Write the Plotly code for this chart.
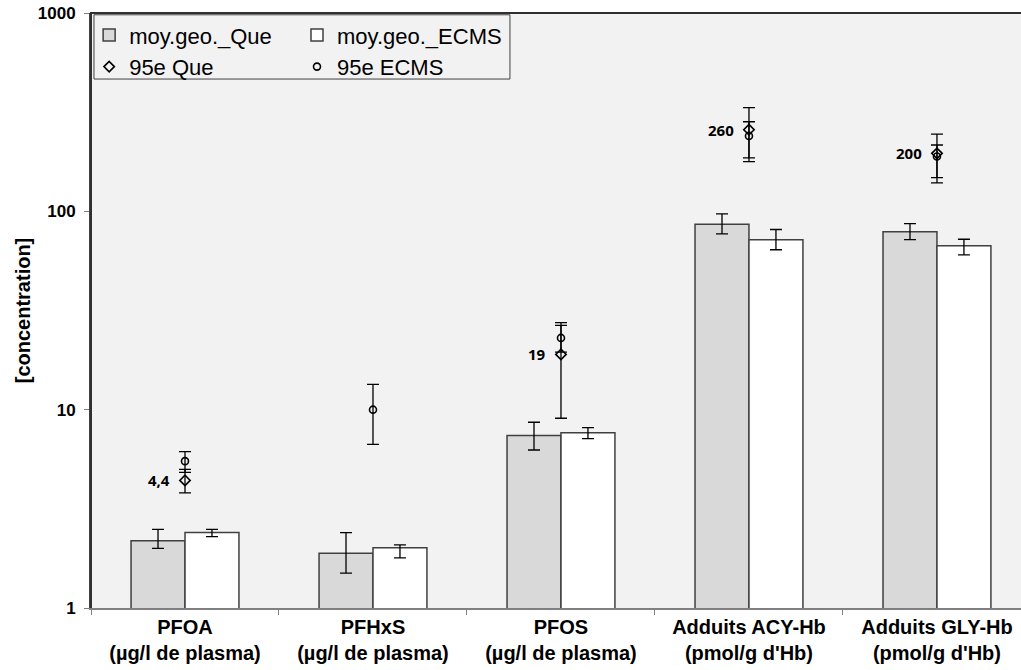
import math
import plotly.graph_objects as go

categories = ["PFOA<br>(µg/l de plasma)", "PFHxS<br>(µg/l de plasma)", "PFOS<br>(µg/l de plasma)",
              "Adduits ACY-Hb<br>(pmol/g d'Hb)", "Adduits GLY-Hb<br>(pmol/g d'Hb)"]

geo_que = [2.18, 1.89, 7.4, 86, 79]
geo_que_hi = [2.49, 2.40, 8.64, 97, 86.7]
geo_que_lo = [2.0, 1.50, 6.26, 77, 72]

geo_ecms = [2.40, 2.01, 7.66, 72, 67]
geo_ecms_hi = [2.49, 2.08, 8.12, 81, 72.3]
geo_ecms_lo = [2.29, 1.79, 7.14, 64, 60.3]

p95_que = [4.4, None, 19, 258, 196]
p95_que_hi = [5.0, None, 27.5, 333, 245]
p95_que_lo = [3.81, None, 9.05, 186, 148]
p95_que_labels = ["4,4", "", "19", "260", "200"]

p95_ecms = [5.5, 10, 23, 240, 189]
p95_ecms_hi = [6.14, 13.4, 26.6, 283, 216]
p95_ecms_lo = [4.83, 6.69, 19.5, 178, 139]

y_ticks = [1, 10, 100, 1000]


def plus(v, hi):
    return [(h - x) if x is not None else 0 for x, h in zip(v, hi)]


def minus(v, lo):
    return [(x - l) if x is not None else 0 for x, l in zip(v, lo)]


def err(v, hi, lo):
    return dict(type="data", symmetric=False, array=plus(v, hi), arrayminus=minus(v, lo),
                color="black", thickness=1.3, width=6)


fig = go.Figure()
fig.add_trace(go.Bar(x=categories, y=geo_que, name="moy.geo._Que",
                     marker=dict(color="#d9d9d9", line=dict(color="#404040", width=1.5)),
                     error_y=err(geo_que, geo_que_hi, geo_que_lo), legend="legend"))
fig.add_trace(go.Bar(x=categories, y=geo_ecms, name="moy.geo._ECMS",
                     marker=dict(color="#ffffff", line=dict(color="#404040", width=1.5)),
                     error_y=err(geo_ecms, geo_ecms_hi, geo_ecms_lo), legend="legend2"))
fig.add_trace(go.Scatter(x=categories, y=p95_que, name="95e Que", mode="markers",
                         marker=dict(symbol="diamond-open", size=8, color="black", line=dict(width=1.6)),
                         error_y=err(p95_que, p95_que_hi, p95_que_lo), legend="legend"))
fig.add_trace(go.Scatter(x=categories, y=p95_ecms, name="95e ECMS", mode="markers",
                         marker=dict(symbol="circle-open", size=7, color="black", line=dict(width=1.6)),
                         error_y=err(p95_ecms, p95_ecms_hi, p95_ecms_lo), legend="legend2"))

annotations = []
for cat, val, lab in zip(categories, p95_que, p95_que_labels):
    if lab:
        annotations.append(dict(x=cat, y=math.log10(val), yref="y", xref="x", text=lab, showarrow=False,
                                xanchor="right", yanchor="middle", xshift=-13,
                                font=dict(family="Open Sans", size=15, color="black", weight="bold")))

leg_common = dict(orientation="v", xanchor="left", yanchor="top", bgcolor="rgba(0,0,0,0)",
                  font=dict(size=22), itemwidth=30, tracegroupgap=0, traceorder="normal")

fig.update_layout(
    width=1021, height=670,
    margin=dict(l=91, r=0, t=13, b=62),
    paper_bgcolor="white", plot_bgcolor="#f2f2f2",
    barmode="group", bargap=0.426, bargroupgap=0,
    font=dict(family="Arial, Liberation Sans", color="black"),
    legend=dict(x=-0.002, y=0.998, **leg_common),
    legend2=dict(x=0.2215, y=0.998, **leg_common),
    xaxis=dict(range=[-0.5, 4.447], showline=True, linecolor="#808080", linewidth=1.5, ticks="outside",
               tickson="boundaries", ticklen=5, tickcolor="#808080",
               tickfont=dict(size=20, weight="bold", family="Arial, Liberation Sans")),
    yaxis=dict(type="log", range=[0, 3], tickvals=y_ticks, ticktext=[str(t) for t in y_ticks],
               showgrid=False, zeroline=False, showline=True, linecolor="#404040", linewidth=2,
               ticks="outside", ticklen=5, tickcolor="#808080", ticklabelstandoff=5,
               tickfont=dict(size=17, weight="bold"),
               title=dict(text="[concentration]", font=dict(size=20, weight="bold"), standoff=2)),
    annotations=annotations,
    shapes=[
        dict(type="path", xref="paper", yref="paper", path="M0,0 L0,1 L1,1",
             line=dict(color="#303030", width=2), layer="above"),
        dict(type="rect", xref="paper", yref="paper", x0=0.0032, x1=0.4505, y0=0.889, y1=0.997,
             line=dict(color="#404040", width=1), fillcolor="rgba(0,0,0,0)", layer="above"),
    ],
)

fig.write_html("out.html")
